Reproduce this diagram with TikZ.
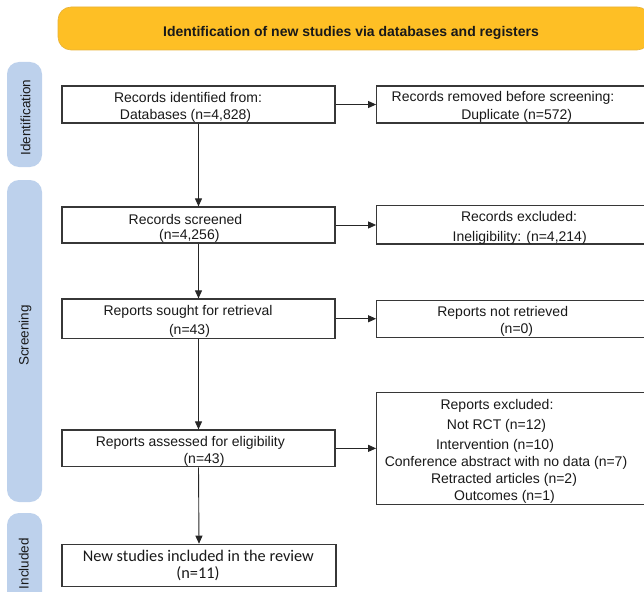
\documentclass[tikz,border=0pt]{standalone}
\usepackage{fontspec}
\setmainfont{Liberation Sans}
\newfontfamily\calibfont{Carlito}
\usetikzlibrary{arrows.meta}
\definecolor{gold}{RGB}{254,191,37}
\definecolor{goldedge}{RGB}{232,178,55}
\definecolor{sideblue}{RGB}{189,209,236}
\definecolor{boxline}{RGB}{55,55,55}
\definecolor{txtcol}{RGB}{25,25,25}
\begin{document}
\begin{tikzpicture}[x=1pt,y=-1pt,
  every node/.style={inner sep=0pt},
  flowbox/.style={draw=boxline, line width=1.2pt, fill=white, rectangle, minimum width=273pt},
  sidebar/.style={fill=sideblue, rounded corners=12pt, minimum width=35pt},
  sidelabel/.style={font=\fontsize{13.5}{15}\selectfont, text=txtcol, rotate=90, anchor=base},
  txt/.style={font=\fontsize{14}{16}\selectfont, anchor=base, text=txtcol},
  incltxt/.style={font=\calibfont\fontsize{16.3}{18}\selectfont, anchor=base, text=txtcol},
  arr/.style={draw=black!85, line width=0.9pt, -{Triangle[length=8pt,width=7pt]}}
]
\useasboundingbox (0,0) rectangle (644,591);
\clip (0,0) rectangle (644,591);

% header
\node[fill=gold, draw=goldedge, line width=0.6pt, rounded corners=13pt, minimum width=592pt, minimum height=43pt] (hdr) at (354,28.5) {};
\node[font=\bfseries\fontsize{14}{16}\selectfont, anchor=base, text=txtcol] (hdrtxt) at (351,36.7) {Identification of new studies via databases and registers};

% side bars
\node[sidebar, minimum height=105pt] (sb1) at (24.5,114.5) {};
\node[sidebar, minimum height=322pt] (sb2) at (24.5,341) {};
\node[sidebar, minimum height=100pt] (sb3) at (24.5,563) {};
\node[sidelabel] (sl1) at (30.3,117.5) {Identification};
\node[sidelabel] (sl2) at (28.6,335.5) {Screening};
\node[sidelabel] (sl3) at (28.6,563.5) {Included};

% left boxes
\node[flowbox, minimum height=37pt] (b1) at (198.5,104.5) {};
\node[flowbox, minimum height=36pt] (b2) at (198.5,225) {};
\node[flowbox, minimum height=39.5pt] (b3) at (198.5,318.75) {};
\node[flowbox, minimum height=36.7pt] (b4) at (198.5,448.35) {};
\node[flowbox, minimum width=274pt, minimum height=42.4pt] (b5) at (199,565.5) {};

% right boxes
\node[flowbox, minimum width=283pt, minimum height=37pt] (r1) at (518.2,104.5) {};
\node[flowbox, minimum width=283pt, minimum height=38.3pt] (r2) at (518.2,224.85) {};
\node[flowbox, minimum width=283pt, minimum height=37pt] (r3) at (518.2,319.2) {};
\node[flowbox, minimum width=283pt, minimum height=111.6pt] (r4) at (518.2,448.5) {};

% connectors
\draw[arr] (b1.south) -- (b2.north);
\draw[arr] (b2.south) -- (b3.north);
\draw[arr] (b3.south) -- (b4.north);
\draw[arr] (b4.south) -- (b5.north);
\draw[arr] (b1.east) -- (b1.east -| r1.west);
\draw[arr] (b2.east) -- (b2.east -| r2.west);
\draw[arr] (b3.east) -- (b3.east -| r3.west);
\draw[arr] (b4.east) -- (b4.east -| r4.west);

% left box texts
\node[txt] (t1a) at (188,102.5) {Records identified from:};
\node[txt] (t1b) at (185.5,119.3) {Databases (n=4,828)};
\node[txt] (t2a) at (185.5,224) {Records screened};
\node[txt] (t2b) at (189.3,239.5) {(n=4,256)};
\node[txt] (t3a) at (188,315) {Reports sought for retrieval};
\node[txt] (t3b) at (189.5,334) {(n=43)};
\node[txt] (t4a) at (190.3,446.7) {Reports assessed for eligibility};
\node[txt] (t4b) at (204,463.3) {(n=43)};
\node[incltxt] (t5a) at (198.3,561.7) {New studies included in the review};
\node[incltxt] (t5b) at (198,578.3) {(n=11)};

% right box texts
\node[txt] (u1a) at (503,101.7) {Records removed before screening:};
\node[txt] (u1b) at (516.7,119.3) {Duplicate (n=572)};
\node[txt] (u2a) at (519,221.7) {Records excluded:};
\node[txt] (u2b) at (519.7,241.7) {Ineligibility: (n=4,214)};
\node[txt] (u3a) at (502.7,316.7) {Reports not retrieved};
\node[txt] (u3b) at (516.6,333) {(n=0)};
\node[txt] (u4a) at (497,409.3) {Reports excluded:};
\node[txt] (u4b) at (496.5,429.3) {Not RCT (n=12)};
\node[txt] (u4c) at (495,449.3) {Intervention (n=10)};
\node[txt] (u4d) at (506,466) {Conference abstract with no data (n=7)};
\node[txt] (u4e) at (504,483.3) {Retracted articles (n=2)};
\node[txt] (u4f) at (504.5,500) {Outcomes (n=1)};
\end{tikzpicture}
\end{document}
